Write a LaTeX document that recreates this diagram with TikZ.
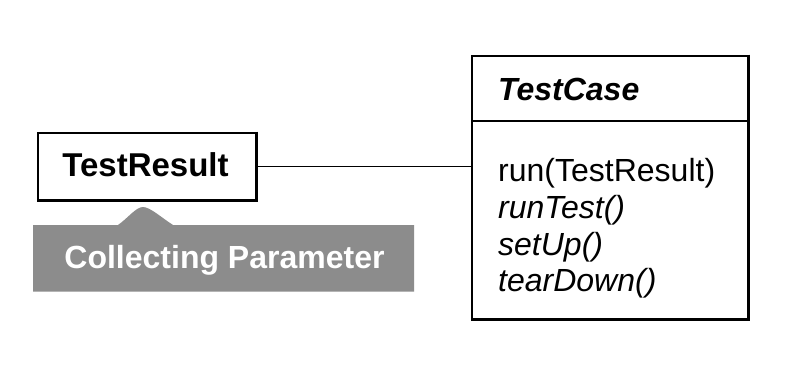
\documentclass[tikz,border=0pt]{standalone}
\usepackage{fontspec}
\setmainfont{Liberation Sans}
\usepackage{xcolor}
\usetikzlibrary{positioning}

\begin{document}
\begin{tikzpicture}[x=1pt, y=-1pt, line width=1.4pt,
    every node/.style={font=\fontsize{32}{37}\selectfont, inner sep=0pt},
    classbox/.style={draw=black, fill=white},
    heavyedge/.style={line width=3pt}]
    % Define colors
    \colorlet{tagcol}{black!45!white}

    \useasboundingbox[fill=white] (0,0) rectangle (798,372);

    % Class boxes
    \node[classbox, minimum width=218pt, minimum height=67pt] (testresult) at (147,166.5) {};
    \node[classbox, minimum width=276pt, minimum height=263pt] (testcase) at (610,187.5) {};
    \draw[heavyedge] ([yshift=0.8pt]testresult.north east) -- (testresult.south east) -- ([xshift=-0.8pt]testresult.south west);
    \draw[heavyedge] ([yshift=0.8pt]testcase.north east) -- (testcase.south east) -- ([xshift=-0.8pt]testcase.south west);
    \draw ([yshift=-65.7pt]testcase.north west) -- ([yshift=-65.7pt]testcase.north east);

    % Class names
    \node[anchor=base, font=\fontsize{33}{37}\selectfont\bfseries] (resultname) at (145.5,176) {TestResult};
    \node[anchor=base west, font=\fontsize{32}{37}\selectfont\bfseries\itshape] (casename) at (497.5,100) {TestCase};

    % Operations
    \node[anchor=base west] (oprun) at (497.5,181.7) {run(TestResult)};
    \node[anchor=base west, font=\fontsize{32}{37}\selectfont\itshape] (opruntest) at (497.5,218.5) {runTest()};
    \node[anchor=base west, font=\fontsize{32}{37}\selectfont\itshape] (opsetup) at (497.5,255.2) {setUp()};
    \node[anchor=base west, font=\fontsize{32}{37}\selectfont\itshape] (opteardown) at (497.5,291.9) {tearDown()};

    % Association
    \draw (testresult.east) -- (testresult.east -| testcase.west);

    % Pattern tag
    \fill[tagcol] (33,225) -- (118,225) .. controls (128,218) and (136,207) .. (143,207)
        .. controls (150,207) and (162,218) .. (173,225) -- (414,225) -- (414,291.5) -- (33,291.5) -- cycle;
    \node[anchor=base, text=white, font=\fontsize{32}{37}\selectfont\bfseries] (tagname) at (224.5,268.3) {Collecting Parameter};
\end{tikzpicture}
\end{document}
